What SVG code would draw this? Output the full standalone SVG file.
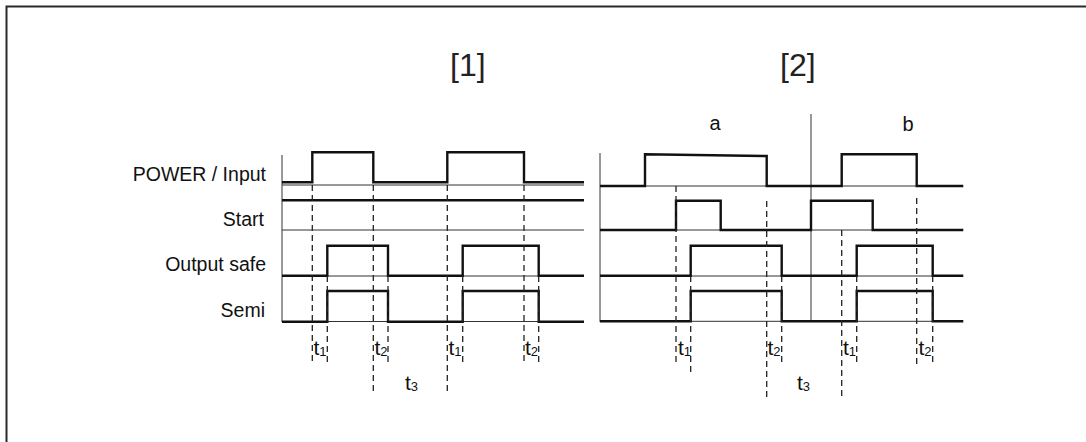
<svg xmlns="http://www.w3.org/2000/svg" width="1086" height="442" viewBox="0 0 1086 442">
<style>
.frame{fill:none;stroke:#2a2a2a;stroke-width:2}
.sig{fill:none;stroke:#111;stroke-width:2.4;stroke-linejoin:miter}
.thin{fill:none;stroke:#333;stroke-width:1}
.dash{fill:none;stroke:#222;stroke-width:1.3;stroke-dasharray:6 4}
.lbl{font-family:"Liberation Sans",Arial,sans-serif;font-size:19.5px;fill:#111}
.ttl{font-family:"Liberation Sans",Arial,sans-serif;font-size:32px;fill:#222}
.ab{font-family:"Liberation Sans",Arial,sans-serif;font-size:20px;fill:#111;text-anchor:middle}
.t{font-family:"Liberation Sans",Arial,sans-serif;font-size:21px;fill:#111}
.sub{font-size:13px}
</style>
<rect class="frame" x="6.5" y="6.5" width="1100" height="500"/>
<g id="titles">
<text class="ttl" x="450" y="76">[1]</text>
<text class="ttl" x="780" y="76">[2]</text>
<text class="ab" x="715" y="130">a</text>
<text class="ab" x="908" y="131">b</text>
</g>
<g id="labels">
<text class="lbl" x="266" y="181" text-anchor="end">POWER / Input</text>
<text class="lbl" x="264" y="226" text-anchor="end">Start</text>
<text class="lbl" x="266" y="271" text-anchor="end">Output safe</text>
<text class="lbl" x="265" y="317" text-anchor="end">Semi</text>
</g>
<g id="panel1">
<line class="thin" x1="282" y1="155" x2="282" y2="322"/>
<line class="thin" x1="282" y1="185" x2="584" y2="185"/>
<line class="thin" x1="282" y1="230" x2="584" y2="230"/>
<line class="thin" x1="282" y1="276" x2="584" y2="276"/>
<line class="thin" x1="282" y1="321.5" x2="584" y2="321.5"/>
<path class="sig" d="M282,182.3 H312.3 V152.3 H373.3 V182.3 H447.3 V152.3 H524 V182.3 H584"/>
<path class="sig" d="M282,200.3 H584"/>
<path class="sig" d="M282,275.7 H327.3 V245.7 H388 V275.7 H462.7 V245.7 H538.7 V275.7 H584"/>
<path class="sig" d="M282,321.7 H327.3 V291 H388 V321.7 H462.7 V291 H538.7 V321.7 H584"/>
</g>
<g id="panel2">
<line class="thin" x1="600" y1="153" x2="600" y2="322"/>
<line class="thin" x1="811" y1="114" x2="811" y2="322"/>
<line class="thin" x1="600" y1="186" x2="963" y2="186"/>
<line class="thin" x1="600" y1="230" x2="963" y2="230"/>
<line class="thin" x1="600" y1="276" x2="963" y2="276"/>
<line class="thin" x1="600" y1="321.3" x2="963" y2="321.3"/>
<path class="sig" d="M600,186 H645 V154.3 L766.7,156 V186 H841.7 V154.3 H916.7 V186 H963.3"/>
<path class="sig" d="M600,230 H676 V200.7 H720.7 V230 H811 V200.7 H872.7 V230 H963.3"/>
<path class="sig" d="M600,275.7 H690.7 V245.7 H781.7 V275.7 H856.7 V245.7 H932.7 V275.7 H963.3"/>
<path class="sig" d="M600,321.3 H690.7 V291 H781.7 V321.3 H856.7 V291 H932.7 V321.3 H963.3"/>
</g>
<g id="connectors">
<line class="dash" x1="312.3" y1="185" x2="312.3" y2="365"/>
<line class="dash" x1="373.3" y1="185" x2="373.3" y2="395"/>
<line class="dash" x1="447.3" y1="185" x2="447.3" y2="395"/>
<line class="dash" x1="524" y1="185" x2="524" y2="365"/>
<line class="dash" x1="327.3" y1="276" x2="327.3" y2="365"/>
<line class="dash" x1="388" y1="276" x2="388" y2="365"/>
<line class="dash" x1="462.7" y1="276" x2="462.7" y2="365"/>
<line class="dash" x1="538.7" y1="276" x2="538.7" y2="365"/>
<line class="dash" x1="676" y1="186" x2="676" y2="362"/>
<line class="dash" x1="690.7" y1="276" x2="690.7" y2="373"/>
<line class="dash" x1="766.7" y1="201" x2="766.7" y2="397"/>
<line class="dash" x1="781.7" y1="276" x2="781.7" y2="366"/>
<line class="dash" x1="841.7" y1="230" x2="841.7" y2="397"/>
<line class="dash" x1="856.7" y1="276" x2="856.7" y2="366"/>
<line class="dash" x1="916.7" y1="198" x2="916.7" y2="366"/>
<line class="dash" x1="932.7" y1="276" x2="932.7" y2="366"/>
</g>
<g id="timings">
<text class="t" x="313.5" y="355">t<tspan class="sub" dy="1">1</tspan></text>
<text class="t" x="374.5" y="355">t<tspan class="sub" dy="1">2</tspan></text>
<text class="t" x="448.5" y="355">t<tspan class="sub" dy="1">1</tspan></text>
<text class="t" x="525" y="355">t<tspan class="sub" dy="1">2</tspan></text>
<text class="t" x="405" y="390">t<tspan class="sub" dy="1">3</tspan></text>
<text class="t" x="678" y="355">t<tspan class="sub" dy="1">1</tspan></text>
<text class="t" x="767.5" y="355">t<tspan class="sub" dy="1">2</tspan></text>
<text class="t" x="843" y="355">t<tspan class="sub" dy="1">1</tspan></text>
<text class="t" x="918.5" y="355">t<tspan class="sub" dy="1">2</tspan></text>
<text class="t" x="797" y="390">t<tspan class="sub" dy="1">3</tspan></text>
</g>
</svg>
